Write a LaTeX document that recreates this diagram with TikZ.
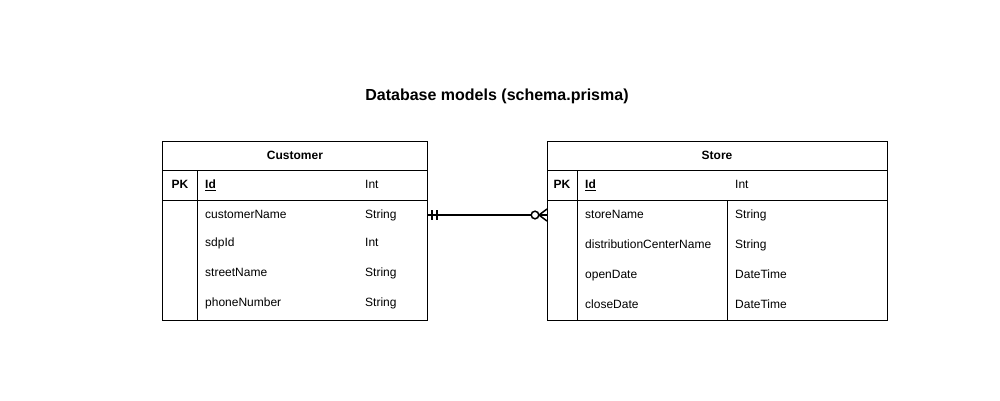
\documentclass[tikz,border=0pt]{standalone}
\usepackage{fontspec}
\setmainfont{Liberation Sans}
\begin{document}
\begin{tikzpicture}[x=1pt,y=-1pt,
  frame/.style={draw=black,line width=1pt},
  txt/.style={font=\fontsize{12}{14}\selectfont,anchor=west,inner sep=0pt,text height=9.8pt,text depth=2.6pt},
  hdr/.style={font=\fontsize{12}{14}\selectfont\bfseries,inner sep=0pt,text height=9.8pt,text depth=2.6pt},
  rel/.style={line width=2pt,draw=black}]
\useasboundingbox (0,0) rectangle (1000,400);
\fill[white] (0,0) rectangle (1000,400);
\node[font=\fontsize{16}{19}\selectfont\bfseries,inner sep=0pt] (title) at (497,96) {Database models (schema.prisma)};
% Customer
\node[frame,minimum width=265pt,minimum height=179pt,anchor=north west,inner sep=0pt] (cust) at (162,141) {};
\draw[frame] (162,170) -- (427,170);
\draw[frame] (162,200) -- (427,200);
\draw[frame] (197,170) -- (197,320);
\node[hdr] (custT) at (295,156) {Customer};
\node[hdr] (custPK) at (180,185) {PK};
\node[txt,font=\fontsize{12}{14}\selectfont\bfseries] (custId) at (205,185) {\underline{Id}};
\node[txt] (custIdT) at (365,185) {Int};
\node[txt] (c1) at (205,215) {customerName};
\node[txt] (c1t) at (365,215) {String};
\node[txt] (c2) at (205,243) {sdpId};
\node[txt] (c2t) at (365,243) {Int};
\node[txt] (c3) at (205,273) {streetName};
\node[txt] (c3t) at (365,273) {String};
\node[txt] (c4) at (205,303) {phoneNumber};
\node[txt] (c4t) at (365,303) {String};
% Store
\node[frame,minimum width=340pt,minimum height=179pt,anchor=north west,inner sep=0pt] (store) at (547,141) {};
\draw[frame] (547,170) -- (887,170);
\draw[frame] (547,200) -- (887,200);
\draw[frame] (577,170) -- (577,320);
\draw[frame] (727,200) -- (727,320);
\node[hdr] (storeT) at (717,156) {Store};
\node[hdr] (storePK) at (562,185) {PK};
\node[txt,font=\fontsize{12}{14}\selectfont\bfseries] (storeId) at (585,185) {\underline{Id}};
\node[txt] (storeIdT) at (735,185) {Int};
\node[txt] (s1) at (585,215) {storeName};
\node[txt] (s1t) at (735,215) {String};
\node[txt] (s2) at (585,245) {distributionCenterName};
\node[txt] (s2t) at (735,245) {String};
\node[txt] (s3) at (585,275) {openDate};
\node[txt] (s3t) at (735,275) {DateTime};
\node[txt] (s4) at (585,305) {closeDate};
\node[txt] (s4t) at (735,305) {DateTime};
% relation
\coordinate (ra) at (427,215);
\coordinate (rb) at (547,215);
\draw[rel] (ra) -- ([xshift=-12pt]rb);
\draw[line width=1.5pt] (432,210) -- (432,220);
\draw[line width=1.5pt] (437,210) -- (437,220);
\draw[line width=1.5pt,fill=white] (535,215) circle (3.8pt);
\draw[line width=1.5pt] (539,215) -- (rb);
\draw[line width=1.5pt] (539,215) -- (547,209);
\draw[line width=1.5pt] (539,215) -- (547,221);
\end{tikzpicture}
\end{document}
